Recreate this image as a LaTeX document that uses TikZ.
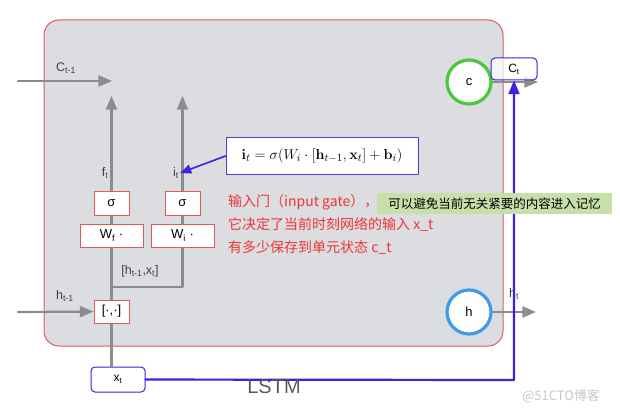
\documentclass[tikz,border=0pt]{standalone}
\usepackage{amsmath,amssymb}
\usepackage[no-math]{fontspec}
\setmainfont{Liberation Sans}
\newfontfamily\cjk{Noto Sans CJK SC}
\usetikzlibrary{shapes, calc, arrows, positioning}
\definecolor{cellgray}{HTML}{DCDDE0}
\definecolor{cellred}{HTML}{E05A5A}
\definecolor{arrowgray}{HTML}{8C8C8C}
\definecolor{lineblue}{HTML}{3D22DD}
\definecolor{eqblue}{HTML}{4A3FC8}
\definecolor{ringgreen}{HTML}{48C83A}
\definecolor{ringblue}{HTML}{3E9BEA}
\definecolor{notegreen}{HTML}{C7E0AA}
\definecolor{notered}{HTML}{F03434}
\newcommand{\lsub}[2]{#1\textsubscript{#2}}
\tikzset{
  flow/.style={color=arrowgray, line width=2.2pt},
  blueflow/.style={color=lineblue, line width=2.2pt},
  gatebox/.style={draw=cellred, fill=white, line width=1pt, minimum width=35, minimum height=24, inner sep=0pt, font=\fontsize{13}{13}\selectfont},
  wbox/.style={gatebox, minimum width=63, minimum height=23},
  portbox/.style={draw=lineblue, fill=white, fill opacity=0.75, text opacity=1, rounded corners=4pt, line width=1pt, inner sep=0pt, font=\fontsize{12}{12}\selectfont},
  ring/.style={circle, fill=white, line width=3.2pt, minimum size=44, inner sep=0pt, font=\fontsize{13}{13}\selectfont},
  lab/.style={text=black!75, inner sep=1pt, font=\fontsize{12.5}{12.5}\selectfont}
}
\begin{document}
\begin{tikzpicture}[line cap=round,line join=round,>=triangle 45,x=1pt,y=-1pt]
\useasboundingbox (0,0) rectangle (620,414);
\draw[draw=cellred, fill=cellgray, line width=1pt, rounded corners=15pt] (44,20) rectangle (503,346);
% gates
\node[gatebox] (sigf) at (111.5,203) {σ};
\node[gatebox] (sigi) at (182.5,203) {σ};
\node[wbox] (wf) at (111.5,235.5) {\lsub{W}{f} ·};
\node[wbox] (wi) at (182.5,235.5) {\lsub{W}{i} ·};
\node[gatebox, minimum height=23] (cat) at (111.5,311.5) {[·,·]};
\node[portbox, minimum width=54, minimum height=25] (xt) at (118,379.5) {\lsub{x}{t}};
\coordinate (cin) at (18,81);
\coordinate (cmid) at (112,81);
\coordinate (ftip) at (111.5,96);
\coordinate (itip) at (182.5,96);
\coordinate (hin) at (18,312);
\coordinate (join) at (182.5,287);
\coordinate (cout) at (538,82);
\coordinate (hout) at (536,312);
\coordinate (bend) at (514,380);
\draw[flow,->] (cin) -- (cmid);
\draw[flow,->] (sigf) -- (ftip);
\draw[flow,->] (sigi) -- (itip);
\draw[flow] (wf) -- (sigf);
\draw[flow] (wi) -- (sigi);
\draw[flow] (cat) -- (wf);
\draw[flow] (wi) -- (join) -- (join -| cat);
\draw[flow,->] (hin) -- (cat);
\draw[flow] (cat) -- (cat |- xt.north);
\node[gatebox] at (sigf) {σ};
\node[gatebox] at (sigi) {σ};
\node[wbox] at (wf) {\lsub{W}{f} ·};
\node[wbox] at (wi) {\lsub{W}{i} ·};
\node[gatebox, minimum height=23] at (cat) {[·,·]};
% labels
\node[lab] (clast) at (66,68) {\lsub{C}{t-1}};
\node[lab] (hlast) at (65,296) {\lsub{h}{t-1}};
\node[lab] (ftlab) at (105,173) {\lsub{f}{t}};
\node[lab] (itlab) at (176,173) {\lsub{i}{t}};
\node[lab] (catlab) at (140,271) {[\lsub{h}{t-1},\lsub{x}{t}]};
\node[lab] (htlab) at (514,294) {\lsub{h}{t}};
% cell state and output
\draw[flow,->] (469,82) -- (cout);
\draw[flow,->] (469,312) -- (hout);
\node[ring, draw=ringgreen] (cc) at (469,82) {c};
\node[ring, draw=ringblue] (hh) at (469,312) {h};
\node[portbox, minimum width=46, minimum height=22] (ct) at (514,69) {\lsub{C}{t}};
\draw[blueflow,->] (xt) -- (bend) -- (ct);
% formula and notes
\node[draw=eqblue, fill=white, line width=1pt, minimum width=192, minimum height=37, font=\fontsize{15}{15}\selectfont] (eq) at (322,156) {$\mathbf{i}_t = \sigma(W_i\cdot[\mathbf{h}_{t-1},\mathbf{x}_t]+\mathbf{b}_i)$};
\draw[color=lineblue, line width=1.6pt, ->] (eq.west) -- (itlab.east);
\node[anchor=north west, align=left, text=notered, inner sep=0pt, font=\cjk\fontsize{14}{23}\selectfont] (note) at (228,194) {输入门（input gate），\\它决定了当前时刻网络的输入 x\_t\\有多少保存到单元状态 c\_t};
\node[fill=notegreen, minimum width=235, minimum height=21, inner sep=0pt, font=\cjk\fontsize{12.5}{13}\selectfont] (tip) at (494.5,203.5) {可以避免当前无关紧要的内容进入记忆};
\node[text=black!65, font=\fontsize{20}{20}\selectfont] (title) at (274,387) {LSTM};
\node[text=black!22, font=\cjk\fontsize{13}{13}\selectfont] (mark) at (561,396) {@51CTO博客};
\end{tikzpicture}
\end{document}
